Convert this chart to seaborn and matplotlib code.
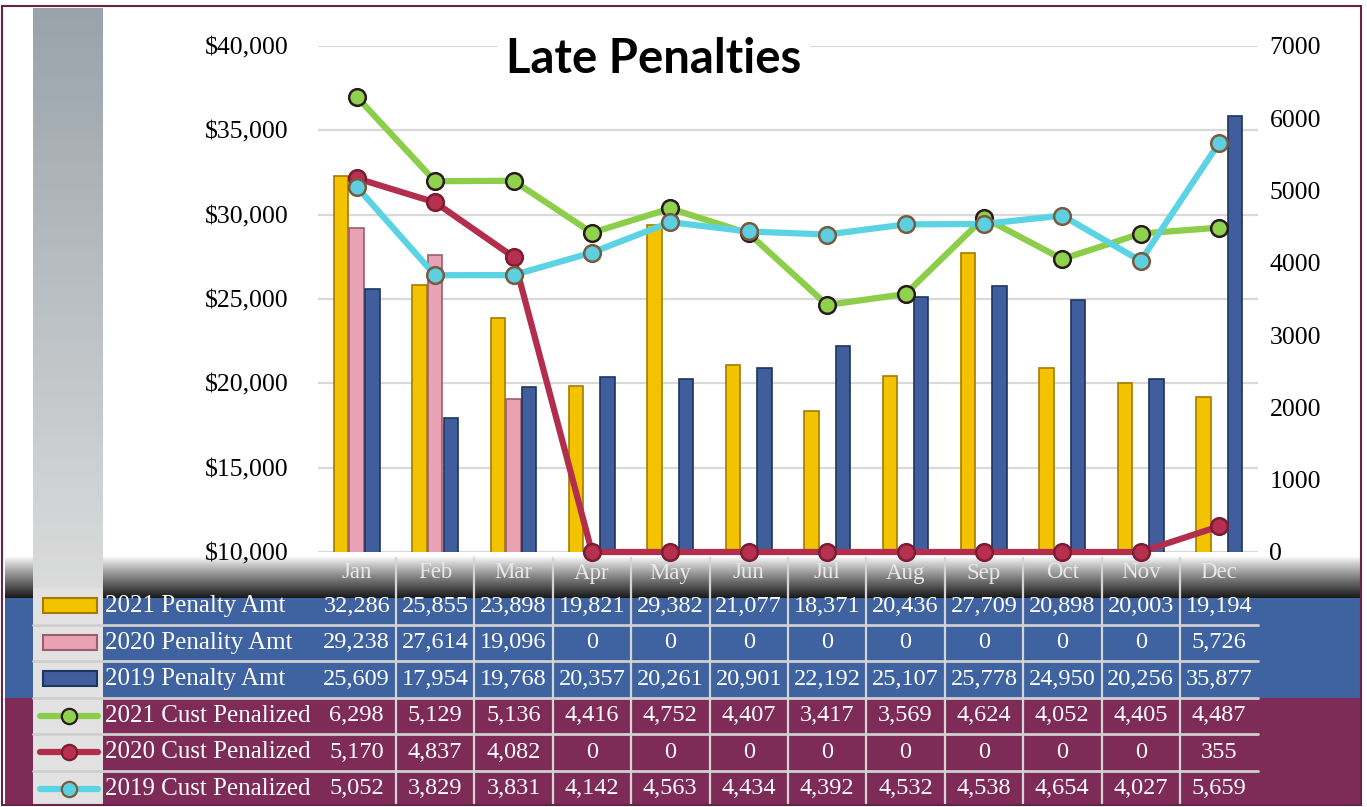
"""Late Penalties - Excel style combo chart with data table."""
import numpy as np
import pandas as pd
import matplotlib
matplotlib.use("Agg")
import matplotlib.pyplot as plt
import seaborn as sns
from matplotlib.patches import Rectangle

# ---------------------------------------------------------------------------
# DATA
# ---------------------------------------------------------------------------
months = ["Jan", "Feb", "Mar", "Apr", "May", "Jun",
          "Jul", "Aug", "Sep", "Oct", "Nov", "Dec"]
amt_2021 = [32286, 25855, 23898, 19821, 29382, 21077, 18371, 20436, 27709, 20898, 20003, 19194]
amt_2020 = [29238, 27614, 19096, 0, 0, 0, 0, 0, 0, 0, 0, 5726]
amt_2019 = [25609, 17954, 19768, 20357, 20261, 20901, 22192, 25107, 25778, 24950, 20256, 35877]
cust_2021 = [6298, 5129, 5136, 4416, 4752, 4407, 3417, 3569, 4624, 4052, 4405, 4487]
cust_2020 = [5170, 4837, 4082, 0, 0, 0, 0, 0, 0, 0, 0, 355]
cust_2019 = [5052, 3829, 3831, 4142, 4563, 4434, 4392, 4532, 4538, 4654, 4027, 5659]

bar_names = ["2021 Penalty Amt", "2020 Penality Amt", "2019 Penalty Amt"]
line_names = ["2021 Cust Penalized", "2020 Cust Penalized", "2019 Cust Penalized"]
left_ticks = [10000, 15000, 20000, 25000, 30000, 35000, 40000]
right_ticks = [0, 1000, 2000, 3000, 4000, 5000, 6000, 7000]

# styles
BAR_FACE = {bar_names[0]: "#F4C300", bar_names[1]: "#E9A2B3", bar_names[2]: "#3F5E9B"}
BAR_EDGE = {bar_names[0]: "#A67A00", bar_names[1]: "#9C5E6E", bar_names[2]: "#1E3461"}
LINE_COL = {line_names[0]: "#8CCE4A", line_names[1]: "#B32D4C", line_names[2]: "#5CD3E3"}
MK_FACE = {line_names[0]: "#8FD24E", line_names[1]: "#B8304F", line_names[2]: "#5CCFE0"}
MK_EDGE = {line_names[0]: "#2B1A1C", line_names[1]: "#7A1D33", line_names[2]: "#7B5B3E"}
BLUE_ROW = "#3F62A1"
MAROON_ROW = "#7E2B57"
SERIF = ["Liberation Serif", "DejaVu Serif"]

W, H = 1367, 807
X0, CW = 317.5, 78.4          # table / category grid in pixels
AX_TOP, AX_BOT = 46, 552

sns.set_theme(style="white")
plt.rcParams["font.family"] = SERIF
plt.rcParams["text.color"] = "black"
plt.rcParams["ytick.color"] = "black"

fig = plt.figure(figsize=(W / 100, H / 100), dpi=100)
fig.patch.set_facecolor("white")

# background / table layer in pixel coordinates
bg = fig.add_axes([0, 0, 1, 1], zorder=0)
bg.set_axis_off()

# table band colours
bg.add_patch(Rectangle((5, 597), 1356, 101, facecolor=BLUE_ROW, edgecolor="none"))
bg.add_patch(Rectangle((5, 698), 1356, 107, facecolor=MAROON_ROW, edgecolor="none"))

# dark header band (gradient white -> black)
grad = np.linspace(0, 1, 60)
band = np.array([[1 - 0.9 * g ** 0.9] * 3 for g in grad]).reshape(-1, 1, 3)
bg.imshow(band, extent=(5, 1361, 598, 556), aspect="auto", zorder=1)

# left grey strip
top_c = np.array([0.60, 0.64, 0.67])
bot_c = np.array([0.86, 0.86, 0.86])
strip = np.array([top_c + (bot_c - top_c) * g for g in np.linspace(0, 1, 100)]).reshape(-1, 1, 3)
bg.imshow(strip, extent=(33, 103, 588, 8), aspect="auto", zorder=2)
bg.add_patch(Rectangle((33, 588), 70, 217, facecolor="#E2E2E2", edgecolor="none", zorder=2))

# table grid lines
row_top = 588
row_h = 36.5
for i in range(1, 6):
    y = row_top + i * row_h
    bg.plot([33, X0 + 12 * CW], [y, y], color="#CFCFCF", lw=2, zorder=3)
for j in range(1, 12):
    x = X0 + j * CW
    bg.plot([x, x], [558, 805], color="#D4D4D4", lw=1.6, zorder=3)

# month header labels
for j, m in enumerate(months):
    bg.text(X0 + (j + 0.5) * CW, 573, m, color="#E8E8E8", fontsize=16.5,
            ha="center", va="center", zorder=4)

# row labels, values and legend keys
rows = [(bar_names[0], amt_2021), (bar_names[1], amt_2020), (bar_names[2], amt_2019),
        (line_names[0], cust_2021), (line_names[1], cust_2020), (line_names[2], cust_2019)]
for i, (name, vals) in enumerate(rows):
    yc = row_top + (i + 0.5) * row_h
    bg.text(105, yc, name, color="white", fontsize=18, ha="left", va="center", zorder=4)
    for j, v in enumerate(vals):
        bg.text(X0 + (j + 0.5) * CW, yc, f"{v:,}", color="white", fontsize=17.5,
                ha="center", va="center", zorder=4)
    if name in BAR_FACE:
        bg.add_patch(Rectangle((43, yc - 8), 54, 15, facecolor=BAR_FACE[name],
                               edgecolor=BAR_EDGE[name], lw=1.5, zorder=4))
    else:
        bg.plot([40, 98], [yc, yc], color=LINE_COL[name], lw=4.5,
                solid_capstyle="round", zorder=4)
        bg.plot([69], [yc], marker="o", markersize=11, color=MK_FACE[name],
                markeredgecolor=MK_EDGE[name], markeredgewidth=1.6, zorder=5)

# outer frame
bg.add_patch(Rectangle((2, 6), 1359, 799, facecolor="none", edgecolor="#6A2348", lw=1.5, zorder=6))
bg.set_xlim(0, W)
bg.set_ylim(H, 0)

# ---------------------------------------------------------------------------
# MAIN CHART
# ---------------------------------------------------------------------------
ax = fig.add_axes([X0 / W, 1 - AX_BOT / H, 12 * CW / W, (AX_BOT - AX_TOP) / H], zorder=1)
ax.set_facecolor("none")

bars = pd.DataFrame({
    "month": months * 3,
    "series": [bar_names[0]] * 12 + [bar_names[1]] * 12 + [bar_names[2]] * 12,
    "amount": amt_2021 + amt_2020 + amt_2019,
})
sns.barplot(data=bars, x="month", y="amount", hue="series", hue_order=bar_names,
            order=months, palette=BAR_FACE, saturation=1, width=0.6, gap=0.08,
            legend=False, ax=ax)
for cont, name in zip(ax.containers, bar_names):
    for p in cont:
        p.set_edgecolor(BAR_EDGE[name])
        p.set_linewidth(1.2)

ax.set_ylim(10000, 40000)
ax.set_yticks(left_ticks)
ax.set_yticklabels([f"${t:,}" for t in left_ticks], fontsize=18.5, color="black")
ax.tick_params(axis="y", length=0, pad=21)
ax.set_xticks([])
ax.set_xlabel("")
ax.set_ylabel("")
ax.yaxis.grid(True, color="#D9D9D9", lw=1.6)
ax.set_axisbelow(True)
for s in ax.spines.values():
    s.set_visible(False)

ax2 = ax.twinx()
for name, vals in zip(line_names, [cust_2021, cust_2020, cust_2019]):
    sns.lineplot(x=np.arange(12), y=vals, color=LINE_COL[name], lw=4.5,
                 marker="o", markersize=12, markerfacecolor=MK_FACE[name],
                 markeredgecolor=MK_EDGE[name], markeredgewidth=1.8,
                 clip_on=False, ax=ax2)
ax2.set_ylim(0, 7000)
ax2.set_yticks(right_ticks)
ax2.set_yticklabels([str(t) for t in right_ticks], fontsize=18.5, color="black")
ax2.tick_params(axis="y", length=0, pad=8)
ax2.set_xlabel("")
ax2.set_ylabel("")
for s in ax2.spines.values():
    s.set_visible(False)
ax.set_xlim(-0.5, 11.5)

fig.text(654 / W, 1 - 59 / H, "Late Penalties", fontsize=34, fontweight="bold",
         color="black", family=["Lato", "DejaVu Sans"], ha="center", va="center",
         bbox=dict(facecolor="white", edgecolor="none", pad=6))

fig.savefig("out.png", dpi=100)
